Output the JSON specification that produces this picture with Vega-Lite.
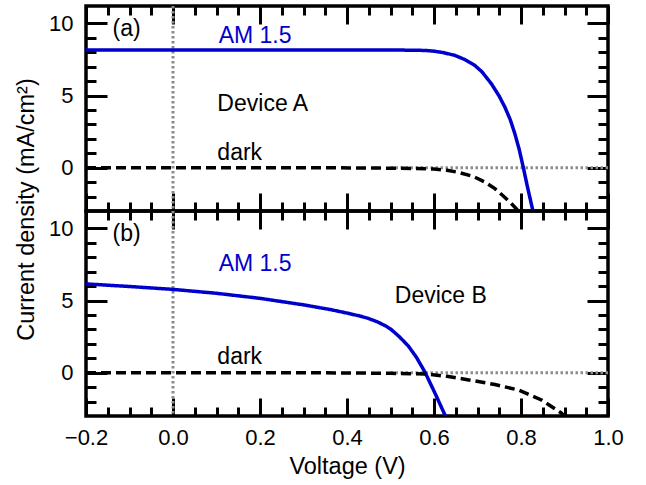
{
  "$schema": "https://vega.github.io/schema/vega-lite/v6.json",
  "padding": {"left": 12, "top": 2, "right": 5, "bottom": 5},
  "bounds": "flush",
  "spacing": 0,
  "config": {
    "font": "Liberation Sans",
    "view": {"stroke": "black", "strokeWidth": 3.5},
    "concat": {"spacing": 0},
    "axis": {
      "domain": false, "grid": false, "tickColor": "black", "tickWidth": 3,
      "labelFont": "Liberation Sans", "labelFontSize": 22, "labelColor": "black",
      "titleFont": "Liberation Sans", "titleFontSize": 23.5, "titleFontWeight": "normal", "titleColor": "black",
      "labelOverlap": false, "labelFlush": false
    }
  },
  "datasets": {
    "curves": [
      {"panel": "a", "series": "AM 1.5", "V": -0.2, "J": 8.15},
      {"panel": "a", "series": "AM 1.5", "V": 0.0, "J": 8.15},
      {"panel": "a", "series": "AM 1.5", "V": 0.2, "J": 8.15},
      {"panel": "a", "series": "AM 1.5", "V": 0.4, "J": 8.15},
      {"panel": "a", "series": "AM 1.5", "V": 0.5, "J": 8.15},
      {"panel": "a", "series": "AM 1.5", "V": 0.55, "J": 8.14},
      {"panel": "a", "series": "AM 1.5", "V": 0.58, "J": 8.12},
      {"panel": "a", "series": "AM 1.5", "V": 0.6, "J": 8.07},
      {"panel": "a", "series": "AM 1.5", "V": 0.62, "J": 7.98},
      {"panel": "a", "series": "AM 1.5", "V": 0.648, "J": 7.78},
      {"panel": "a", "series": "AM 1.5", "V": 0.67, "J": 7.5},
      {"panel": "a", "series": "AM 1.5", "V": 0.694, "J": 7.08},
      {"panel": "a", "series": "AM 1.5", "V": 0.71, "J": 6.65},
      {"panel": "a", "series": "AM 1.5", "V": 0.732, "J": 5.81},
      {"panel": "a", "series": "AM 1.5", "V": 0.75, "J": 4.95},
      {"panel": "a", "series": "AM 1.5", "V": 0.763, "J": 4.19},
      {"panel": "a", "series": "AM 1.5", "V": 0.775, "J": 3.35},
      {"panel": "a", "series": "AM 1.5", "V": 0.786, "J": 2.34},
      {"panel": "a", "series": "AM 1.5", "V": 0.796, "J": 1.25},
      {"panel": "a", "series": "AM 1.5", "V": 0.805, "J": 0.05},
      {"panel": "a", "series": "AM 1.5", "V": 0.815, "J": -1.35},
      {"panel": "a", "series": "AM 1.5", "V": 0.829, "J": -3.2},
      {"panel": "a", "series": "dark", "V": -0.2, "J": 0.0},
      {"panel": "a", "series": "dark", "V": 0.3, "J": 0.0},
      {"panel": "a", "series": "dark", "V": 0.45, "J": -0.02},
      {"panel": "a", "series": "dark", "V": 0.55, "J": -0.05},
      {"panel": "a", "series": "dark", "V": 0.6, "J": -0.09},
      {"panel": "a", "series": "dark", "V": 0.63, "J": -0.18},
      {"panel": "a", "series": "dark", "V": 0.656, "J": -0.32},
      {"panel": "a", "series": "dark", "V": 0.69, "J": -0.6},
      {"panel": "a", "series": "dark", "V": 0.717, "J": -1.0},
      {"panel": "a", "series": "dark", "V": 0.74, "J": -1.45},
      {"panel": "a", "series": "dark", "V": 0.763, "J": -2.06},
      {"panel": "a", "series": "dark", "V": 0.78, "J": -2.55},
      {"panel": "a", "series": "dark", "V": 0.8, "J": -3.2},
      {"panel": "b", "series": "AM 1.5", "V": -0.2, "J": 6.15},
      {"panel": "b", "series": "AM 1.5", "V": -0.1, "J": 5.97},
      {"panel": "b", "series": "AM 1.5", "V": 0.0, "J": 5.77},
      {"panel": "b", "series": "AM 1.5", "V": 0.1, "J": 5.5},
      {"panel": "b", "series": "AM 1.5", "V": 0.2, "J": 5.15},
      {"panel": "b", "series": "AM 1.5", "V": 0.3, "J": 4.7},
      {"panel": "b", "series": "AM 1.5", "V": 0.364, "J": 4.36},
      {"panel": "b", "series": "AM 1.5", "V": 0.4, "J": 4.13},
      {"panel": "b", "series": "AM 1.5", "V": 0.43, "J": 3.92},
      {"panel": "b", "series": "AM 1.5", "V": 0.449, "J": 3.76},
      {"panel": "b", "series": "AM 1.5", "V": 0.47, "J": 3.52},
      {"panel": "b", "series": "AM 1.5", "V": 0.49, "J": 3.22},
      {"panel": "b", "series": "AM 1.5", "V": 0.502, "J": 2.98},
      {"panel": "b", "series": "AM 1.5", "V": 0.52, "J": 2.5},
      {"panel": "b", "series": "AM 1.5", "V": 0.541, "J": 1.85},
      {"panel": "b", "series": "AM 1.5", "V": 0.56, "J": 1.05},
      {"panel": "b", "series": "AM 1.5", "V": 0.579, "J": 0.05},
      {"panel": "b", "series": "AM 1.5", "V": 0.602, "J": -1.4},
      {"panel": "b", "series": "AM 1.5", "V": 0.625, "J": -2.92},
      {"panel": "b", "series": "AM 1.5", "V": 0.631, "J": -3.3},
      {"panel": "b", "series": "dark", "V": -0.2, "J": 0.0},
      {"panel": "b", "series": "dark", "V": 0.3, "J": 0.0},
      {"panel": "b", "series": "dark", "V": 0.4, "J": -0.02},
      {"panel": "b", "series": "dark", "V": 0.5, "J": -0.04},
      {"panel": "b", "series": "dark", "V": 0.58, "J": -0.09},
      {"panel": "b", "series": "dark", "V": 0.63, "J": -0.25},
      {"panel": "b", "series": "dark", "V": 0.68, "J": -0.5},
      {"panel": "b", "series": "dark", "V": 0.74, "J": -0.82},
      {"panel": "b", "series": "dark", "V": 0.794, "J": -1.2},
      {"panel": "b", "series": "dark", "V": 0.847, "J": -1.89},
      {"panel": "b", "series": "dark", "V": 0.893, "J": -2.8},
      {"panel": "b", "series": "dark", "V": 0.905, "J": -3.2}
    ],
    "labels": [
      {"panel": "a", "label": "(a)", "V": -0.139, "J": 9.15},
      {"panel": "a", "label": "AM 1.5", "V": 0.105, "J": 8.64},
      {"panel": "a", "label": "Device A", "V": 0.102, "J": 3.96},
      {"panel": "a", "label": "dark", "V": 0.102, "J": 0.55},
      {"panel": "b", "label": "(b)", "V": -0.139, "J": 9.15},
      {"panel": "b", "label": "AM 1.5", "V": 0.105, "J": 7.05},
      {"panel": "b", "label": "Device B", "V": 0.51, "J": 4.84},
      {"panel": "b", "label": "dark", "V": 0.102, "J": 0.6}
    ],
    "one": [{}]
  },
  "vconcat": [
    {
      "width": 522, "height": 205,
      "resolve": {"axis": {"x": "independent", "y": "independent"}},
      "layer": [
        {
          "data": {"name": "one"},
          "mark": {"type": "rule", "color": "#8c8c8c", "strokeWidth": 3, "strokeDash": [2.5, 2.5]},
          "encoding": {"x": {"datum": 0, "type": "quantitative", "scale": {"domain": [-0.2, 1.0], "nice": false, "zero": false}, "axis": null}}
        },
        {
          "data": {"name": "one"},
          "mark": {"type": "rule", "color": "#8c8c8c", "strokeWidth": 3, "strokeDash": [2.5, 2.5]},
          "encoding": {
            "x": {"datum": 0.5, "type": "quantitative", "scale": {"domain": [-0.2, 1.0], "nice": false, "zero": false},
              "axis": {"orient": "top", "labels": false, "title": null,
                "values": [-0.2,-0.15,-0.1,-0.05,0,0.05,0.1,0.15,0.2,0.25,0.3,0.35,0.4,0.45,0.5,0.55,0.6,0.65,0.7,0.75,0.8,0.85,0.9,0.95,1.0],
                "tickSize": {"condition": {"test": "abs(round(datum.value*20)) % 4 === 0", "value": -18}, "value": -9}}},
            "x2": {"datum": 1.0},
            "y": {"datum": 0, "type": "quantitative", "scale": {"domain": [-3, 11.2], "nice": false, "zero": false},
              "axis": {"orient": "right", "labels": false, "title": null,
                "values": [-2,-1,0,1,2,3,4,5,6,7,8,9,10],
                "tickSize": {"condition": {"test": "datum.value % 5 === 0", "value": -21}, "value": -10}}}
          }
        },
        {
          "data": {"name": "curves"},
          "transform": [{"filter": "datum.panel === 'a'"}],
          "mark": {"type": "line", "strokeWidth": 3.5, "clip": true},
          "encoding": {
            "x": {"field": "V", "type": "quantitative", "scale": {"domain": [-0.2, 1.0], "nice": false, "zero": false},
              "axis": {"orient": "bottom", "labels": false, "title": null,
                "values": [-0.2,-0.15,-0.1,-0.05,0,0.05,0.1,0.15,0.2,0.25,0.3,0.35,0.4,0.45,0.5,0.55,0.6,0.65,0.7,0.75,0.8,0.85,0.9,0.95,1.0],
                "tickSize": {"condition": {"test": "abs(round(datum.value*20)) % 4 === 0", "value": -18}, "value": -9}}},
            "y": {"field": "J", "type": "quantitative", "scale": {"domain": [-3, 11.2], "nice": false, "zero": false},
              "axis": {"orient": "left", "title": "Current density (mA/cm²)", "titleY": 203, "titlePadding": 10,
                "values": [-2,-1,0,1,2,3,4,5,6,7,8,9,10],
                "labelExpr": "datum.value % 5 === 0 ? datum.label : ''", "labelPadding": 34,
                "tickSize": {"condition": {"test": "datum.value % 5 === 0", "value": -21}, "value": -10}}},
            "color": {"field": "series", "type": "nominal", "scale": {"domain": ["AM 1.5", "dark"], "range": ["#0000cc", "#000000"]}, "legend": null},
            "strokeDash": {"field": "series", "type": "nominal", "scale": {"domain": ["AM 1.5", "dark"], "range": [[1, 0], [10, 5]]}, "legend": null}
          }
        },
        {
          "data": {"name": "labels"},
          "transform": [{"filter": "datum.panel === 'a'"}],
          "mark": {"type": "text", "align": "left", "baseline": "alphabetic", "fontSize": 23, "font": "Liberation Sans"},
          "encoding": {
            "x": {"field": "V", "type": "quantitative", "axis": null},
            "y": {"field": "J", "type": "quantitative", "axis": null},
            "text": {"field": "label"},
            "color": {"condition": {"test": "datum.label === 'AM 1.5'", "value": "#0000cc"}, "value": "#000000"}
          }
        }
      ]
    },
    {
      "width": 522, "height": 205,
      "resolve": {"axis": {"x": "independent", "y": "independent"}},
      "layer": [
        {
          "data": {"name": "one"},
          "mark": {"type": "rule", "color": "#8c8c8c", "strokeWidth": 3, "strokeDash": [2.5, 2.5]},
          "encoding": {"x": {"datum": 0, "type": "quantitative", "scale": {"domain": [-0.2, 1.0], "nice": false, "zero": false}, "axis": null}}
        },
        {
          "data": {"name": "one"},
          "mark": {"type": "rule", "color": "#8c8c8c", "strokeWidth": 3, "strokeDash": [2.5, 2.5]},
          "encoding": {
            "x": {"datum": 0.5, "type": "quantitative", "scale": {"domain": [-0.2, 1.0], "nice": false, "zero": false},
              "axis": {"orient": "top", "labels": false, "title": null,
                "values": [-0.2,-0.15,-0.1,-0.05,0,0.05,0.1,0.15,0.2,0.25,0.3,0.35,0.4,0.45,0.5,0.55,0.6,0.65,0.7,0.75,0.8,0.85,0.9,0.95,1.0],
                "tickSize": {"condition": {"test": "abs(round(datum.value*20)) % 4 === 0", "value": -18}, "value": -9}}},
            "x2": {"datum": 1.0},
            "y": {"datum": 0, "type": "quantitative", "scale": {"domain": [-3, 11.2], "nice": false, "zero": false},
              "axis": {"orient": "right", "labels": false, "title": null,
                "values": [-2,-1,0,1,2,3,4,5,6,7,8,9,10],
                "tickSize": {"condition": {"test": "datum.value % 5 === 0", "value": -21}, "value": -10}}}
          }
        },
        {
          "data": {"name": "curves"},
          "transform": [{"filter": "datum.panel === 'b'"}],
          "mark": {"type": "line", "strokeWidth": 3.5, "clip": true},
          "encoding": {
            "x": {"field": "V", "type": "quantitative", "scale": {"domain": [-0.2, 1.0], "nice": false, "zero": false},
              "axis": {"orient": "bottom", "title": "Voltage (V)", "titlePadding": -3, "format": ".1f",
                "values": [-0.2,-0.15,-0.1,-0.05,0,0.05,0.1,0.15,0.2,0.25,0.3,0.35,0.4,0.45,0.5,0.55,0.6,0.65,0.7,0.75,0.8,0.85,0.9,0.95,1.0],
                "labelExpr": "abs(round(datum.value*20)) % 4 === 0 ? datum.label : ''", "labelPadding": 29,
                "tickSize": {"condition": {"test": "abs(round(datum.value*20)) % 4 === 0", "value": -18}, "value": -9}}},
            "y": {"field": "J", "type": "quantitative", "scale": {"domain": [-3, 11.2], "nice": false, "zero": false},
              "axis": {"orient": "left", "title": null,
                "values": [-2,-1,0,1,2,3,4,5,6,7,8,9,10],
                "labelExpr": "datum.value % 5 === 0 ? datum.label : ''", "labelPadding": 34,
                "tickSize": {"condition": {"test": "datum.value % 5 === 0", "value": -21}, "value": -10}}},
            "color": {"field": "series", "type": "nominal", "scale": {"domain": ["AM 1.5", "dark"], "range": ["#0000cc", "#000000"]}, "legend": null},
            "strokeDash": {"field": "series", "type": "nominal", "scale": {"domain": ["AM 1.5", "dark"], "range": [[1, 0], [10, 5]]}, "legend": null}
          }
        },
        {
          "data": {"name": "labels"},
          "transform": [{"filter": "datum.panel === 'b'"}],
          "mark": {"type": "text", "align": "left", "baseline": "alphabetic", "fontSize": 23, "font": "Liberation Sans"},
          "encoding": {
            "x": {"field": "V", "type": "quantitative", "axis": null},
            "y": {"field": "J", "type": "quantitative", "axis": null},
            "text": {"field": "label"},
            "color": {"condition": {"test": "datum.label === 'AM 1.5'", "value": "#0000cc"}, "value": "#000000"}
          }
        }
      ]
    }
  ]
}
